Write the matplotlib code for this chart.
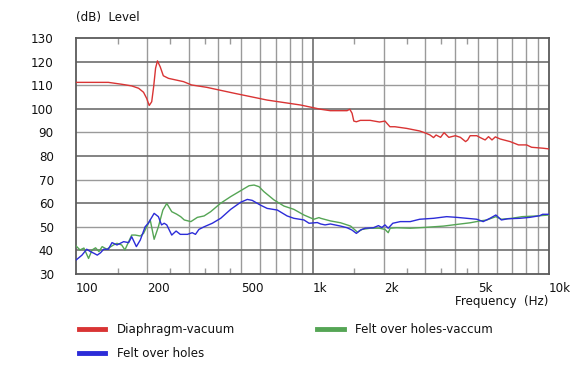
import numpy as np
import matplotlib
matplotlib.use("Agg")
import matplotlib.pyplot as plt
from matplotlib.ticker import FixedLocator, NullFormatter

# Diaphragm-vacuum (red)
red_freq = [100, 137, 156, 172, 184, 193, 199, 204, 209, 213, 217, 221, 227, 234, 246,
            285, 308, 357, 466, 643, 891, 1083, 1190, 1400, 1438, 1470, 1495, 1533, 1593,
            1754, 1920, 2025, 2125, 2230, 2500, 2840, 3010, 3140, 3250, 3330, 3480, 3600,
            3770, 4020, 4220, 4440, 4530, 4640, 4950, 5120, 5370, 5550, 5740, 5930, 6220,
            6850, 7430, 8040, 8440, 9430, 10000]
red_db = [111.2, 111.2, 110.4, 109.7, 108.7, 107.0, 104.4, 101.4, 103.0, 109.4, 117.2, 120.3,
          117.8, 114.0, 112.9, 111.5, 110.1, 109.1, 106.6, 103.7, 101.6, 99.8, 99.2, 99.2,
          99.8, 98.1, 94.8, 94.5, 95.1, 95.1, 94.4, 94.8, 92.4, 92.4, 91.7, 90.6, 89.7,
          88.9, 87.8, 88.9, 87.9, 89.9, 87.9, 88.6, 87.9, 86.1, 86.8, 88.6, 88.6, 87.8,
          86.8, 88.2, 86.8, 88.1, 87.2, 86.1, 84.7, 84.7, 83.7, 83.3, 83.0]

# Felt over holes (blue)
blue_freq = [100, 106, 111, 115, 119, 123, 127, 131, 137, 142, 149, 159, 167, 172, 180, 187,
             196, 202, 214, 223, 230, 236, 242, 254, 265, 276, 296, 310, 320, 331, 348, 377,
             409, 451, 497, 530, 556, 602, 643, 710, 781, 834, 920, 967, 1048, 1083, 1130,
             1190, 1315, 1400, 1470, 1533, 1593, 1670, 1810, 1900, 1965, 2025, 2090, 2185,
             2350, 2590, 2840, 3250, 3690, 4070, 4490, 4950, 5270, 5630, 5960, 6290, 6700,
             7520, 8290, 9130, 9400, 10000]
blue_db = [35.9, 38.0, 40.5, 39.5, 38.8, 38.0, 39.0, 40.5, 40.5, 43.3, 42.3, 43.7, 43.3, 45.8,
           41.6, 44.4, 50.0, 51.5, 55.7, 54.3, 50.8, 51.5, 50.8, 46.5, 48.2, 46.8, 46.8, 47.5,
           46.8, 48.9, 50.0, 51.5, 53.6, 57.4, 60.4, 61.6, 61.2, 59.2, 57.8, 57.1, 54.6, 53.6,
           52.9, 51.5, 51.8, 51.2, 50.8, 51.2, 50.3, 49.6, 48.6, 47.2, 48.6, 49.4, 49.6, 50.5,
           49.7, 50.8, 49.4, 51.5, 52.2, 52.2, 53.2, 53.6, 54.3, 54.0, 53.6, 53.2, 52.2, 53.6,
           55.0, 52.9, 53.4, 53.6, 54.0, 54.7, 55.3, 55.3]

# Felt over holes-vaccum (green)
green_freq = [100, 104, 108, 113, 117, 121, 125, 129, 135, 144, 149, 156, 161, 167, 172, 178,
              187, 193, 199, 206, 214, 223, 233, 242, 254, 266, 277, 287, 306, 326, 348, 371,
              409, 451, 497, 539, 566, 594, 623, 687, 757, 834, 920, 1013, 1065, 1083, 1190,
              1315, 1450, 1550, 1620, 1754, 1920, 2025, 2090, 2130, 2270, 2590, 2940, 3580,
              4070, 4640, 5120, 5460, 5960, 6290, 6960, 7700, 8880, 10000]
green_db = [41.9, 40.2, 41.0, 36.6, 40.2, 41.1, 39.5, 41.6, 40.5, 42.3, 43.0, 42.3, 40.2, 43.7,
            46.5, 46.5, 46.1, 47.2, 50.0, 52.9, 44.7, 50.0, 57.1, 59.9, 56.4, 55.4, 54.3, 52.9,
            52.2, 54.0, 54.6, 56.4, 60.0, 62.8, 65.3, 67.4, 67.7, 67.0, 64.9, 61.4, 58.8, 57.4,
            55.0, 53.2, 53.9, 53.6, 52.5, 51.7, 50.3, 47.7, 48.9, 49.4, 49.4, 48.9, 47.5, 49.4,
            49.6, 49.4, 49.7, 50.3, 51.0, 51.7, 52.5, 52.9, 54.3, 53.2, 53.6, 54.3, 54.6, 55.0]

x_labels = ["100", "200", "500", "1k", "2k", "5k", "10k"]
x_label_pos = [100, 200, 500, 1000, 2000, 5000, 10000]
y_ticks = list(range(30, 131, 10))

RED, BLUE, GREEN = "#d93434", "#2c2cd8", "#55a555"
FRAME, GRID_DARK, GRID_LIGHT = "#5a5a5a", "#6e6e6e", "#9a9a9a"

fig = plt.figure(figsize=(5.78, 3.90), dpi=100)
ax = fig.add_axes([76 / 578, 1 - 274 / 390, (549 - 76) / 578, (274 - 38) / 390])
ax.set_xscale("log")
ax.set_xlim(100, 10000)
ax.set_ylim(30, 130)

# grid
for dec in [100, 1000]:
    for m in range(2, 10):
        ax.axvline(dec * m, color=GRID_LIGHT, lw=1.0, zorder=1)
ax.axvline(1000, color=GRID_DARK, lw=1.2, zorder=1)
for y in y_ticks[1:-1]:
    dark = y % 20 == 0
    ax.axhline(y, color=GRID_DARK if dark else GRID_LIGHT, lw=1.2 if dark else 1.0, zorder=1)

ax.plot(red_freq, red_db, color=RED, lw=1.0, label="Diaphragm-vacuum", zorder=3)
ax.plot(green_freq, green_db, color=GREEN, lw=1.0, label="Felt over holes-vaccum", zorder=3)
ax.plot(blue_freq, blue_db, color=BLUE, lw=1.0, label="Felt over holes", zorder=3)

for s in ax.spines.values():
    s.set_color(FRAME)
    s.set_linewidth(1.3)

ax.set_yticks(y_ticks)
ax.tick_params(axis="y", length=0, pad=16, labelsize=8.6, colors="#111111")
ax.xaxis.set_major_locator(FixedLocator([150, 250, 350, 450, 1500, 2500, 3500, 4500]))
ax.xaxis.set_major_formatter(NullFormatter())
ax.xaxis.set_minor_locator(FixedLocator([]))
ax.tick_params(axis="x", which="major", direction="in", length=4, width=1,
               color=GRID_LIGHT, top=True, bottom=True)
for xv, lab in zip(x_label_pos, x_labels):
    ax.text(xv, -0.035, lab, transform=ax.get_xaxis_transform(), ha="left", va="top",
            fontsize=8.6, color="#111111")

fig.text(76 / 578, 1 - 17 / 390, "(dB)  Level", ha="left", va="center", fontsize=8.6,
         color="#111111")
fig.text(548 / 578, 1 - 302 / 390, "Frequency  (Hz)", ha="right", va="center", fontsize=8.6,
         color="#111111")

handles, labels = ax.get_legend_handles_labels()
order = [0, 2, 1]
leg = fig.legend([handles[i] for i in order], [labels[i] for i in order], ncol=2,
                 loc="upper left", bbox_to_anchor=(79 / 578, 1 - 323 / 390),
                 frameon=False, fontsize=8.6, handlelength=2.2, handletextpad=0.95,
                 columnspacing=6.9, labelspacing=0.95, borderpad=0, borderaxespad=0)
for h in leg.legend_handles:
    h.set_linewidth(3.5)
for t in leg.get_texts():
    t.set_color("#111111")

fig.savefig("out.png", dpi=100)
